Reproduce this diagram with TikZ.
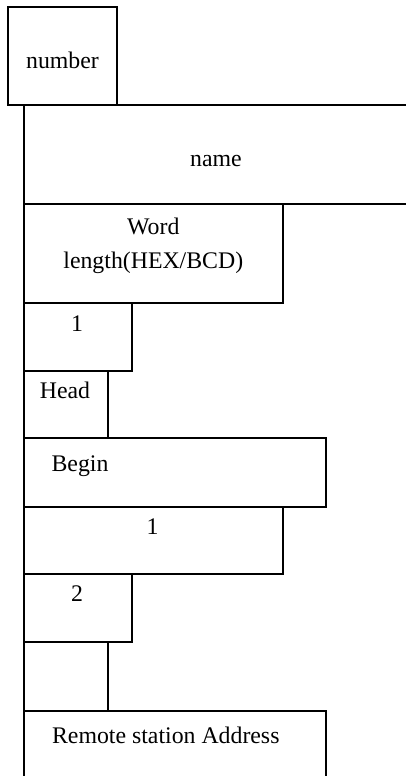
\documentclass[tikz,border=0pt]{standalone}
\usepackage{fontspec}
\setmainfont{Liberation Serif}
\begin{document}
\begin{tikzpicture}[x=1pt,y=-1pt,
  boxline/.style={draw=black,line width=1.9pt,line cap=rect,line join=miter},
  lbl/.style={anchor=base,inner sep=0pt,font=\fontsize{23.8}{34}\selectfont}]
\useasboundingbox (0,0) rectangle (406,776);
% frames
\draw[boxline] (8,105) -- (8,7) -- (117,7) -- (117,105);
\draw[boxline] (8,105) -- (406,105);
\draw[boxline] (24,105) -- (24,776);
\draw[boxline] (24,204) -- (406,204);
\draw[boxline] (24,303) -- (283,303) -- (283,204);
\draw[boxline] (24,371) -- (132,371) -- (132,303);
\draw[boxline] (24,438) -- (108,438) -- (108,371);
\draw[boxline] (24,438) -- (326,438) -- (326,507) -- (24,507);
\draw[boxline] (24,574) -- (283,574) -- (283,507);
\draw[boxline] (24,642) -- (132,642) -- (132,574);
\draw[boxline] (24,711) -- (108,711) -- (108,642);
\draw[boxline] (24,711) -- (326,711) -- (326,776);
% texts
\node[lbl] (number) at (62.5,68.3) {number};
\node[lbl] (name) at (216,166.7) {name};
\node[lbl] (word) at (153.3,234) {Word};
\node[lbl] (length) at (153.3,268.3) {length(HEX/BCD)};
\node[lbl] (one) at (77,331) {1};
\node[lbl] (head) at (65,398.3) {Head};
\node[lbl] (begin) at (80,471) {Begin};
\node[lbl] (oneb) at (152.5,534) {1};
\node[lbl] (two) at (77,601.7) {2};
\node[lbl] (remote) at (165.8,743.3) {Remote station Address};
\end{tikzpicture}
\end{document}
